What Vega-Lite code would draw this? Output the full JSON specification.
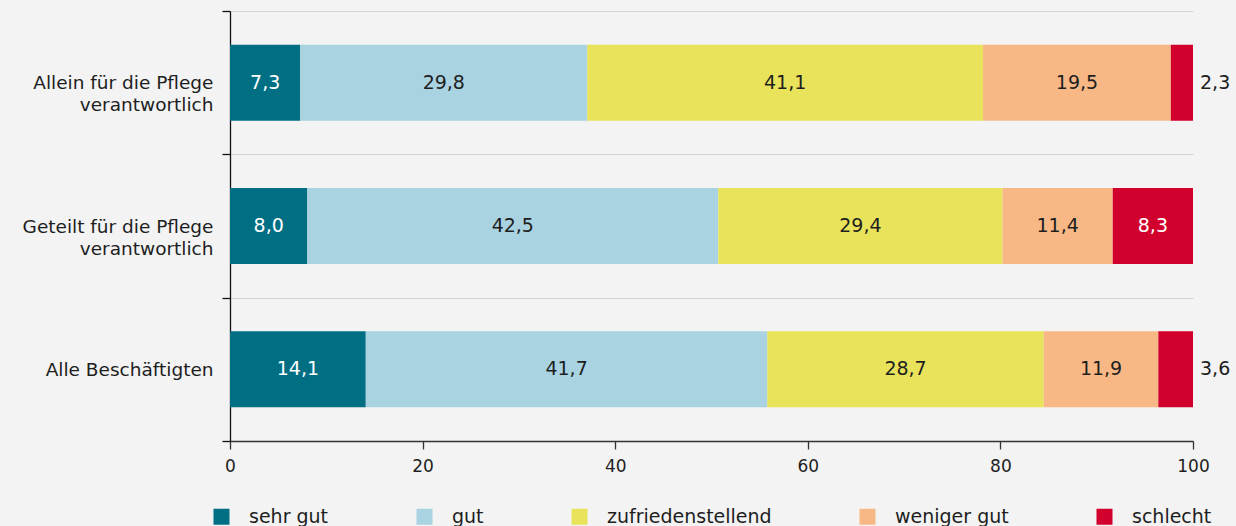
{
  "$schema": "https://vega.github.io/schema/vega-lite/v6.json",
  "width": 963,
  "height": 430,
  "autosize": {"type": "none"},
  "padding": {"left": 230, "top": 11, "right": 43, "bottom": 85},
  "background": "#f2f3f2",
  "config": {
    "view": {"stroke": null},
    "font": "DejaVu Sans",
    "locale": {"number": {"decimal": ",", "thousands": ".", "grouping": [3], "currency": ["", " €"]}}
  },
  "data": {"values": [
    {"cat": "Allein für die Pflege verantwortlich", "rating": "sehr gut", "k": 1, "value": 7.3},
    {"cat": "Allein für die Pflege verantwortlich", "rating": "gut", "k": 2, "value": 29.8},
    {"cat": "Allein für die Pflege verantwortlich", "rating": "zufriedenstellend", "k": 3, "value": 41.1},
    {"cat": "Allein für die Pflege verantwortlich", "rating": "weniger gut", "k": 4, "value": 19.5},
    {"cat": "Allein für die Pflege verantwortlich", "rating": "schlecht", "k": 5, "value": 2.3},
    {"cat": "Geteilt für die Pflege verantwortlich", "rating": "sehr gut", "k": 1, "value": 8.0},
    {"cat": "Geteilt für die Pflege verantwortlich", "rating": "gut", "k": 2, "value": 42.5},
    {"cat": "Geteilt für die Pflege verantwortlich", "rating": "zufriedenstellend", "k": 3, "value": 29.4},
    {"cat": "Geteilt für die Pflege verantwortlich", "rating": "weniger gut", "k": 4, "value": 11.4},
    {"cat": "Geteilt für die Pflege verantwortlich", "rating": "schlecht", "k": 5, "value": 8.3},
    {"cat": "Alle Beschäftigten", "rating": "sehr gut", "k": 1, "value": 14.1},
    {"cat": "Alle Beschäftigten", "rating": "gut", "k": 2, "value": 41.7},
    {"cat": "Alle Beschäftigten", "rating": "zufriedenstellend", "k": 3, "value": 28.7},
    {"cat": "Alle Beschäftigten", "rating": "weniger gut", "k": 4, "value": 11.9},
    {"cat": "Alle Beschäftigten", "rating": "schlecht", "k": 5, "value": 3.6}
  ]},
  "transform": [
    {"stack": "value", "groupby": ["cat"], "sort": [{"field": "k"}], "offset": "normalize", "as": ["x0", "x1"]},
    {"calculate": "(datum.x0 + datum.x1) / 2", "as": "mid"}
  ],
  "encoding": {
    "y": {
      "field": "cat", "type": "nominal", "sort": null,
      "scale": {"paddingInner": 0, "paddingOuter": 0},
      "axis": {
        "title": null,
        "tickBand": "extent",
        "grid": true,
        "gridColor": "#d4d6d5",
        "gridWidth": 1.2,
        "domainColor": "#111111",
        "domainWidth": 1.3,
        "tickColor": "#111111",
        "tickSize": 8,
        "tickWidth": 1.3,
        "labelFontSize": 18.5,
        "labelColor": "#1e1e1e",
        "labelPadding": 9,
        "labelLimit": 0,
        "labelLineHeight": 22,
        "labelExpr": "indexof(datum.label, ' verantwortlich') > 0 ? [replace(datum.label, ' verantwortlich', ''), 'verantwortlich'] : datum.label"
      }
    }
  },
  "layer": [
    {
      "mark": {"type": "bar", "size": 76},
      "encoding": {
        "x": {
          "field": "x0", "type": "quantitative",
          "scale": {"domain": [0, 1], "nice": false},
          "axis": {
            "title": null,
            "values": [0, 0.2, 0.4, 0.6, 0.8, 1],
            "labelExpr": "format(datum.value * 100, 'd')",
            "labelFlush": false,
            "grid": false,
            "tickSize": 8,
            "tickColor": "#333333",
            "tickWidth": 1.3,
            "domainColor": "#333333",
            "domainWidth": 1.5,
            "labelFontSize": 17,
            "labelColor": "#1e1e1e",
            "labelPadding": 9
          }
        },
        "x2": {"field": "x1"},
        "color": {
          "field": "rating", "type": "nominal",
          "scale": {
            "domain": ["sehr gut", "gut", "zufriedenstellend", "weniger gut", "schlecht"],
            "range": ["#006f83", "#a9d3e1", "#e8e35a", "#f7b885", "#d2002d"]
          },
          "legend": {
            "title": null,
            "orient": "none",
            "legendX": -18,
            "legendY": 496,
            "direction": "horizontal",
            "symbolType": "square",
            "symbolSize": 256,
            "symbolStrokeWidth": 0,
            "symbolOpacity": 1,
            "labelFontSize": 19,
            "labelLimit": 0,
            "labelColor": "#1e1e1e",
            "labelOffset": 18,
            "columnPadding": 86
          }
        }
      }
    },
    {
      "transform": [{"filter": "datum.value >= 5"}],
      "mark": {"type": "text", "fontSize": 19},
      "encoding": {
        "x": {"field": "mid", "type": "quantitative"},
        "text": {"field": "value", "type": "quantitative", "format": ".1f"},
        "color": {"condition": {"test": "datum.k == 1 || datum.k == 5", "value": "#ffffff"}, "value": "#1e1e1e"}
      }
    },
    {
      "transform": [{"filter": "datum.value < 5"}],
      "mark": {"type": "text", "fontSize": 19, "align": "left", "dx": 7, "color": "#1e1e1e"},
      "encoding": {
        "x": {"field": "x1", "type": "quantitative"},
        "text": {"field": "value", "type": "quantitative", "format": ".1f"}
      }
    }
  ]
}
